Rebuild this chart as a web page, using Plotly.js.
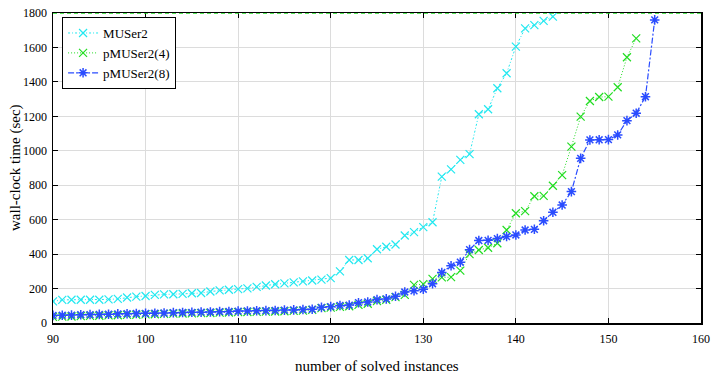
<!DOCTYPE html>
<html>
<head>
<meta charset="utf-8">
<script src="https://cdn.plot.ly/plotly-3.0.1.min.js"></script>
<style>html,body{margin:0;padding:0;background:#fff;}#chart{width:713px;height:373px;}</style>
</head>
<body>
<div id="chart"></div>
<script>
// number of solved instances (x values)
const solved = [90,91,92,93,94,95,96,97,98,99,100,101,102,103,104,105,106,107,108,109,110,
  111,112,113,114,115,116,117,118,119,120,121,122,123,124,125,126,127,128,129,130,
  131,132,133,134,135,136,137,138,139,140,141,142,143,144,145,146,147,148,149,150,
  151,152,153,154,155];

// MUSer2 (90..144)
const muser2 = [126,134,135,135,135,135,137,140,148,153,157,163,166,167,169,173,174,183,189,193,197,
  201,210,218,225,230,236,242,247,252,261,300,366,366,376,428,443,456,508,528,557,
  585,850,892,947,981,1212,1241,1363,1450,1605,1711,1730,1754,1779];

// pMUSer2(4) (90..153)
const pmuser4 = [36,37,38,40,41,42,44,45,47,48,50,51,53,54,55,56,57,58,60,61,63,
  64,65,66,67,68,70,72,76,86,89,94,97,105,112,128,135,150,163,221,226,
  256,265,266,304,400,424,437,463,540,637,650,736,738,797,859,1024,1198,1289,1312,1314,
  1369,1543,1653];

// pMUSer2(8) (90..155)
const pmuser8 = [44,45,46,48,49,50,51,53,54,55,56,57,58,60,61,62,63,64,66,67,69,
  70,71,72,73,75,76,78,80,91,95,102,104,118,122,136,140,155,180,187,196,
  228,293,332,353,426,479,480,490,502,511,540,544,594,643,685,763,956,1063,1064,1065,
  1092,1175,1218,1314,1760];

const seriesNames = ['MUSer2','pMUSer2(4)','pMUSer2(8)'];
const xTicks = [90,100,110,120,130,140,150,160];
const yTicks = [0,200,400,600,800,1000,1200,1400,1600,1800];
const timeout = 1800;
const xTitle = 'number of solved instances';
const yTitle = 'wall-clock time (sec)';

const FAM = '"Liberation Serif", "Times New Roman", serif';

const traces = [
  {x: solved.slice(0, muser2.length), y: muser2, name: seriesNames[0], type:'scatter', mode:'lines+markers',
   line:{color:'#22e8f0', width:1, dash:'2px,2px,1px,2px'},
   marker:{symbol:'x-thin-open', size:8, color:'#22e8f0', line:{color:'#22e8f0', width:1.2}}},
  {x: solved.slice(0, pmuser4.length), y: pmuser4, name: seriesNames[1], type:'scatter', mode:'lines+markers',
   line:{color:'#22dd22', width:1, dash:'1px,2px'},
   marker:{symbol:'x-thin-open', size:8, color:'#22dd22', line:{color:'#22dd22', width:1.2}}},
  {x: solved.slice(0, pmuser8.length), y: pmuser8, name: seriesNames[2], type:'scatter', mode:'lines+markers',
   line:{color:'#2a4cff', width:1.2, dash:'6px,2px,2px,2px'},
   marker:{symbol:'asterisk-open', size:8, color:'#2a4cff', line:{color:'#2a4cff', width:1.5}}}
];

function axisCommon() {
  return {
    showline:true, linecolor:'#000', linewidth:1.5, mirror:'ticks',
    ticks:'inside', ticklen:5, tickcolor:'#000', tickwidth:1,
    showgrid:true, gridcolor:'#dcdcdc', gridwidth:1, zeroline:false,
    tickfont:{family:FAM, size:12, color:'#000'}
  };
}

const layout = {
  width:713, height:373,
  margin:{l:53, r:12, t:13, b:50},
  paper_bgcolor:'#fff', plot_bgcolor:'#fff',
  font:{family:FAM, size:12, color:'#000'},
  xaxis: Object.assign(axisCommon(), {
    range:[90,160], tickvals:xTicks, ticktext:xTicks.map(String),
    ticklabelstandoff:4
  }),
  yaxis: Object.assign(axisCommon(), {
    range:[0,1800], tickvals:yTicks, ticktext:yTicks.map(String),
    ticklabelstandoff:2
  }),
  annotations:[
    {text:xTitle, xref:'paper', yref:'paper', x:0.5, y:-0.139, xanchor:'center', yanchor:'middle',
     showarrow:false, font:{family:FAM, size:15, color:'#000'}},
    {text:yTitle, xref:'paper', yref:'paper', x:-0.0586, y:0.5, xanchor:'center', yanchor:'middle',
     textangle:-90, showarrow:false, font:{family:FAM, size:15, color:'#000'}}
  ],
  showlegend:true,
  legend:{x:0.014, y:0.987, xanchor:'left', yanchor:'top', bgcolor:'#fff',
    bordercolor:'#000', borderwidth:1, font:{family:FAM, size:13, color:'#000'},
    tracegroupgap:0, itemwidth:30},
  shapes:[{type:'line', xref:'paper', x0:0, x1:1, yref:'y', y0:timeout, y1:timeout,
    line:{color:'#22dd22', width:1.5, dash:'4px,3px'}, layer:'above'}]
};

Plotly.newPlot('chart', traces, layout, {staticPlot:true, displayModeBar:false});
</script>
</body>
</html>
